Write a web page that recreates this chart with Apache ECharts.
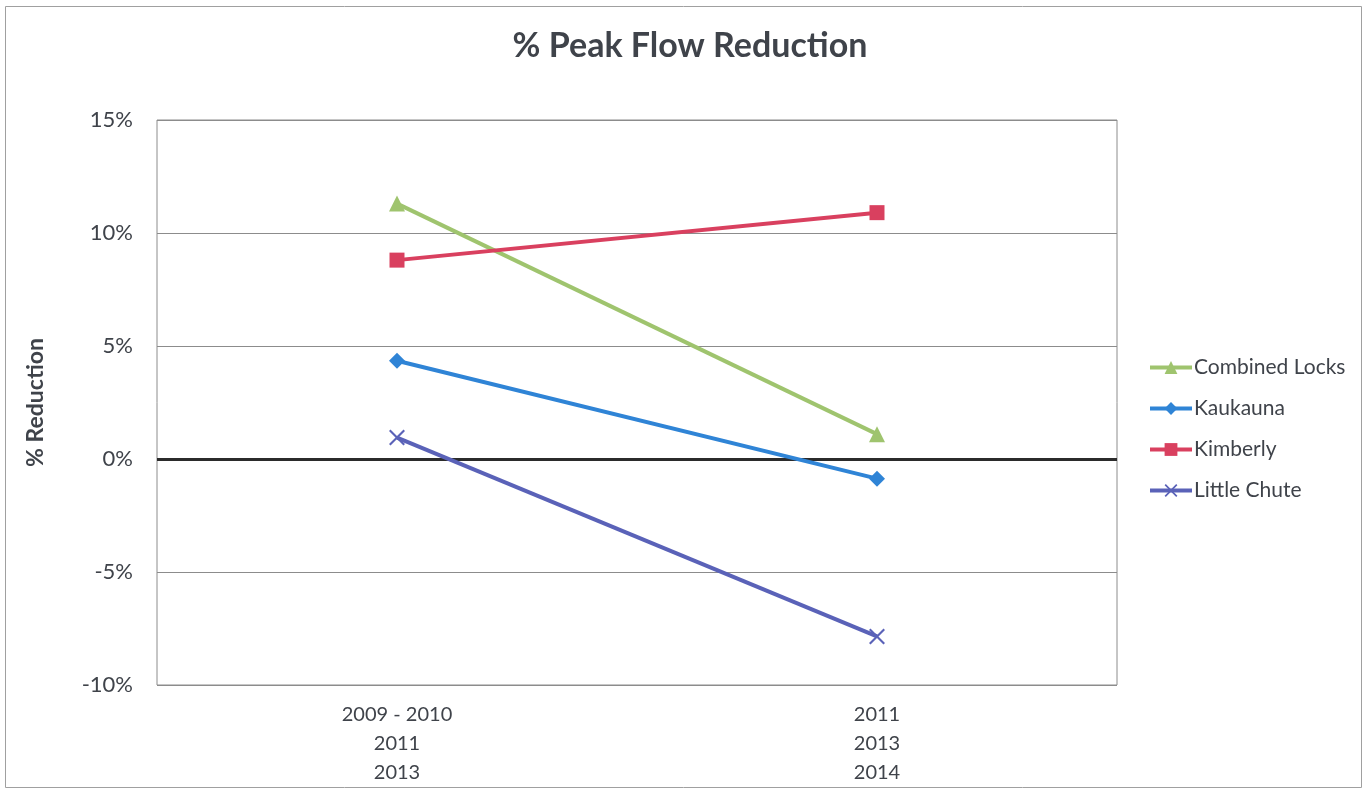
<!DOCTYPE html>
<html>
<head>
<meta charset="utf-8">
<script src="https://cdn.jsdelivr.net/npm/echarts@6/dist/echarts.min.js"></script>
<style>html,body{margin:0;padding:0;background:#fff;}#c{width:1368px;height:793px;}</style>
</head>
<body>
<div id="c"></div>
<script>
const categories = ['2009 - 2010\n2011\n2013', '2011\n2013\n2014'];
const combinedLocks = [11.3, 1.1];
const kaukauna = [4.35, -0.87];
const kimberly = [8.8, 10.9];
const littleChute = [0.95, -7.85];
const yTicks = [-10, -5, 0, 5, 10, 15];

const font = 'Lato, "Open Sans", sans-serif';
const txt = '#3f434a';
const xPath = 'path://M0,1.5L1.5,0L8,6.5L14.5,0L16,1.5L9.5,8L16,14.5L14.5,16L8,9.5L1.5,16L0,14.5L6.5,8Z';

function mk(name, data, color, symbol, size) {
  return {
    name, type: 'line', data, symbol, symbolSize: size,
    lineStyle: { color, width: 4 },
    itemStyle: { color },
    z: 3
  };
}

const series = [
  mk('Combined Locks', combinedLocks, '#9fc46e', 'triangle', 16),
  mk('Kaukauna', kaukauna, '#2f84d6', 'diamond', 16),
  mk('Kimberly', kimberly, '#d9405f', 'rect', 15),
  mk('Little Chute', littleChute, '#5a62b8', xPath, 16)
];
series[0].markLine = {
  silent: true, symbol: 'none', label: { show: false },
  lineStyle: { color: '#2b2b2b', width: 3, type: 'solid' },
  data: [{ yAxis: 0 }], z: 2
};

const chart = echarts.init(document.getElementById('c'));
chart.setOption({
  animation: false,
  backgroundColor: '#fff',
  title: {
    text: '% Peak Flow Reduction', left: 685, top: 24, textAlign: 'center',
    textStyle: { fontFamily: font, fontWeight: 'bold', fontSize: 34, color: txt }
  },
  graphic: [{
    type: 'rect', shape: { x: 5.5, y: 6.5, width: 1356, height: 781 },
    style: { fill: 'none', stroke: '#a0a0a0', lineWidth: 1 }, silent: true
  }],
  legend: {
    orient: 'vertical', left: 1143, top: 352, itemGap: 20,
    itemWidth: 42, itemHeight: 16,
    lineStyle: { width: 4 },
    textStyle: { fontFamily: font, fontSize: 21, color: txt, padding: [0, 0, 0, -3] },
    data: series.map(s => s.name)
  },
  grid: {
    left: 157, top: 120, width: 960, height: 565, show: true,
    borderColor: '#8c8c8c', borderWidth: 1, containLabel: false
  },
  xAxis: {
    type: 'category', data: categories, boundaryGap: true,
    axisLine: { show: false }, axisTick: { show: false },
    axisLabel: { fontFamily: font, fontSize: 20, color: txt, lineHeight: 29, margin: 15 }
  },
  yAxis: {
    type: 'value', min: yTicks[0], max: yTicks[yTicks.length - 1], interval: 5,
    name: '% Reduction', nameLocation: 'middle', nameGap: 110, nameRotate: 90,
    nameTextStyle: { fontFamily: font, fontWeight: 'bold', fontSize: 23, color: txt },
    axisLine: { show: false }, axisTick: { show: false },
    splitLine: { lineStyle: { color: '#8c8c8c', width: 1 } },
    axisLabel: { fontFamily: font, fontSize: 22, color: txt, margin: 24, formatter: v => v + '%' }
  },
  series
});
</script>
</body>
</html>
